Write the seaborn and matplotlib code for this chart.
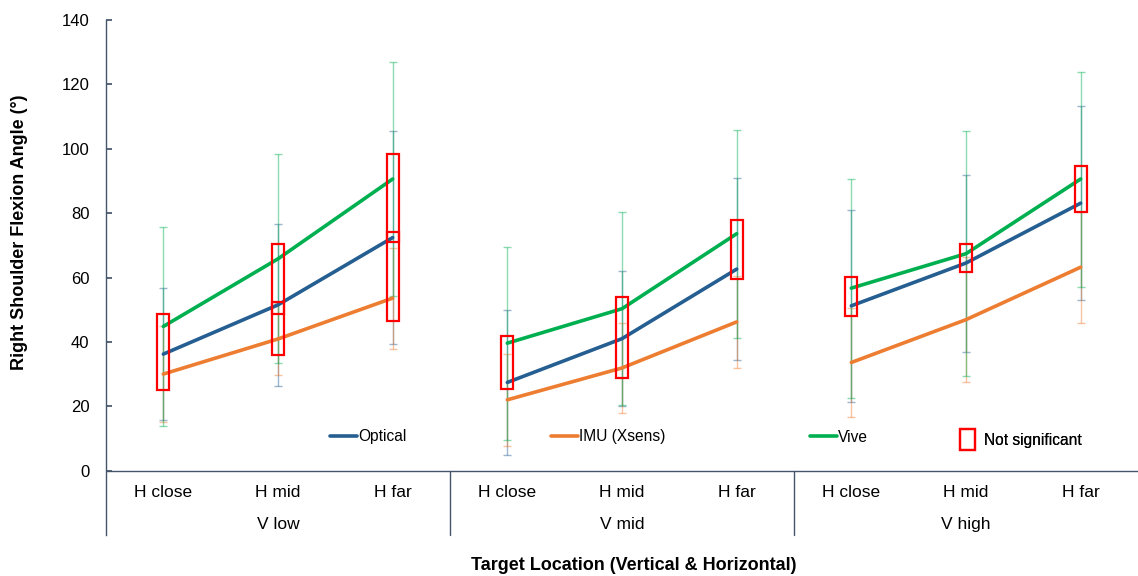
import numpy as np
import pandas as pd
import matplotlib
matplotlib.use("Agg")
import matplotlib.pyplot as plt
from matplotlib.patches import Rectangle
from matplotlib.lines import Line2D
import seaborn as sns

# ---------------- data ----------------
h_labels = ["H close", "H mid", "H far"]
v_labels = ["V low", "V mid", "V high"]
series_names = ["Optical", "IMU (Xsens)", "Vive"]

optical_mean = [36.2, 51.5, 72.4, 27.4, 41.0, 62.6, 51.2, 64.5, 83.1]
optical_sd = [20.5, 25.2, 33.0, 22.6, 21.0, 28.3, 29.9, 27.5, 30.1]
imu_mean = [30.0, 40.9, 53.6, 22.0, 31.9, 46.2, 33.6, 46.9, 63.2]
imu_sd = [15.0, 11.1, 15.7, 14.3, 14.0, 14.3, 16.9, 19.5, 17.2]
vive_mean = [44.8, 65.8, 90.6, 39.6, 50.3, 73.6, 56.7, 67.4, 90.6]
vive_sd = [30.9, 32.5, 36.3, 30.0, 30.0, 32.3, 34.0, 38.0, 33.4]

# "Not significant" boxes: category index, low, high
ns_pos = [0, 1, 1, 2, 2, 3, 4, 5, 6, 7, 8]
ns_low = [25.0, 48.6, 35.8, 70.9, 46.6, 25.4, 28.7, 59.5, 47.9, 61.7, 80.3]
ns_high = [48.7, 70.4, 52.4, 98.3, 74.0, 41.9, 53.9, 77.9, 60.3, 70.4, 94.5]

colors = {"Optical": "#255E91", "IMU (Xsens)": "#ED7D31", "Vive": "#00B050"}
spine_color = "#44546A"

# ---------------- build frame ----------------
rows = []
means = {"Optical": optical_mean, "IMU (Xsens)": imu_mean, "Vive": vive_mean}
sds = {"Optical": optical_sd, "IMU (Xsens)": imu_sd, "Vive": vive_sd}
for s in series_names:
    for i in range(9):
        rows.append({"pos": i, "group": v_labels[i // 3], "series": s,
                     "mean": means[s][i], "sd": sds[s][i]})
df = pd.DataFrame(rows)

sns.set_theme(style="white")
plt.rcParams["font.family"] = ["Liberation Sans", "DejaVu Sans"]
plt.rcParams["text.color"] = "black"
plt.rcParams["ytick.color"] = "black"
plt.rcParams["xtick.color"] = "black"
plt.rcParams["axes.labelcolor"] = "black"

fig = plt.figure(figsize=(11.38, 5.76), dpi=100)
ax = fig.add_axes([106 / 1138, 1 - 535 / 576, 1 - 106 / 1138, (535 - 20) / 576])

# error bars
for s in series_names:
    d = df[df.series == s]
    ax.errorbar(d["pos"], d["mean"], yerr=d["sd"], fmt="none",
                ecolor=colors[s], elinewidth=1.0, capsize=3, capthick=1.0,
                alpha=0.45, zorder=2)

# lines (separate per group)
sns.lineplot(data=df, x="pos", y="mean", hue="series", units="group",
             estimator=None, palette=colors, hue_order=series_names,
             linewidth=2.6, legend=False, ax=ax, zorder=3, sort=False)

# not-significant boxes
w = 0.105
for p, lo, hi in zip(ns_pos, ns_low, ns_high):
    ax.add_patch(Rectangle((p - w / 2, lo), w, hi - lo, fill=False,
                           edgecolor="#FF0000", linewidth=1.6, zorder=4))

# axes styling
ax.set_xlim(-0.5, 8.5)
ax.set_ylim(-20, 140)
ax.set_yticks(range(0, 141, 20))
ax.set_xticks([])
ax.set_xlabel("")
ax.set_ylabel("")
for sp in ["top", "right", "bottom"]:
    ax.spines[sp].set_visible(False)
ax.spines["left"].set_color(spine_color)
ax.spines["left"].set_linewidth(1.0)
ax.tick_params(axis="y", direction="in", length=4, color=spine_color,
               labelsize=12, pad=12, left=True, labelcolor="black")
ax.axhline(0, color=spine_color, linewidth=1.0, zorder=1)
for b in [2.5, 5.5]:
    ax.plot([b, b], [0, -20], color=spine_color, linewidth=1.0, clip_on=False)

# category labels
for i in range(9):
    ax.text(i, -6.8, h_labels[i % 3], ha="center", va="center", fontsize=12.5)
for g in range(3):
    ax.text(g * 3 + 1, -16.8, v_labels[g], ha="center", va="center", fontsize=12.5)

fig.text(20 / 1138, 1 - 232 / 576, "Right Shoulder Flexion Angle (°)", rotation=90,
         ha="center", va="center", fontsize=13, fontweight="bold")
fig.text(634 / 1138, 1 - 565 / 576, "Target Location (Vertical & Horizontal)",
         ha="center", va="center", fontsize=13, fontweight="bold")

# legends
fs = 11.2
em = fs * 100 / 72
leg_y = (535 - 437) / 515
for name, xpx in zip(series_names, [330, 551, 810]):
    h = Line2D([], [], color=colors[name], linewidth=2.6)
    lg = ax.legend([h], [name], loc="center left",
                   bbox_to_anchor=((xpx - 106) / 1032, leg_y),
                   frameon=False, borderpad=0, borderaxespad=0,
                   handlelength=27 / em, handletextpad=0.05, fontsize=fs)
    ax.add_artist(lg)
rect_h = Rectangle((0, 0), 1, 1, fill=False, edgecolor="#FF0000", linewidth=1.6)
lg = ax.legend([rect_h], ["Not significant"], loc="center left",
               bbox_to_anchor=((960 - 106) / 1032, (535 - 439.5) / 515),
               frameon=False, borderpad=0, borderaxespad=0,
               handlelength=15 / em, handleheight=27 / em,
               handletextpad=0.6, fontsize=fs)
ax.add_artist(lg)

fig.savefig("out.png", dpi=100)
